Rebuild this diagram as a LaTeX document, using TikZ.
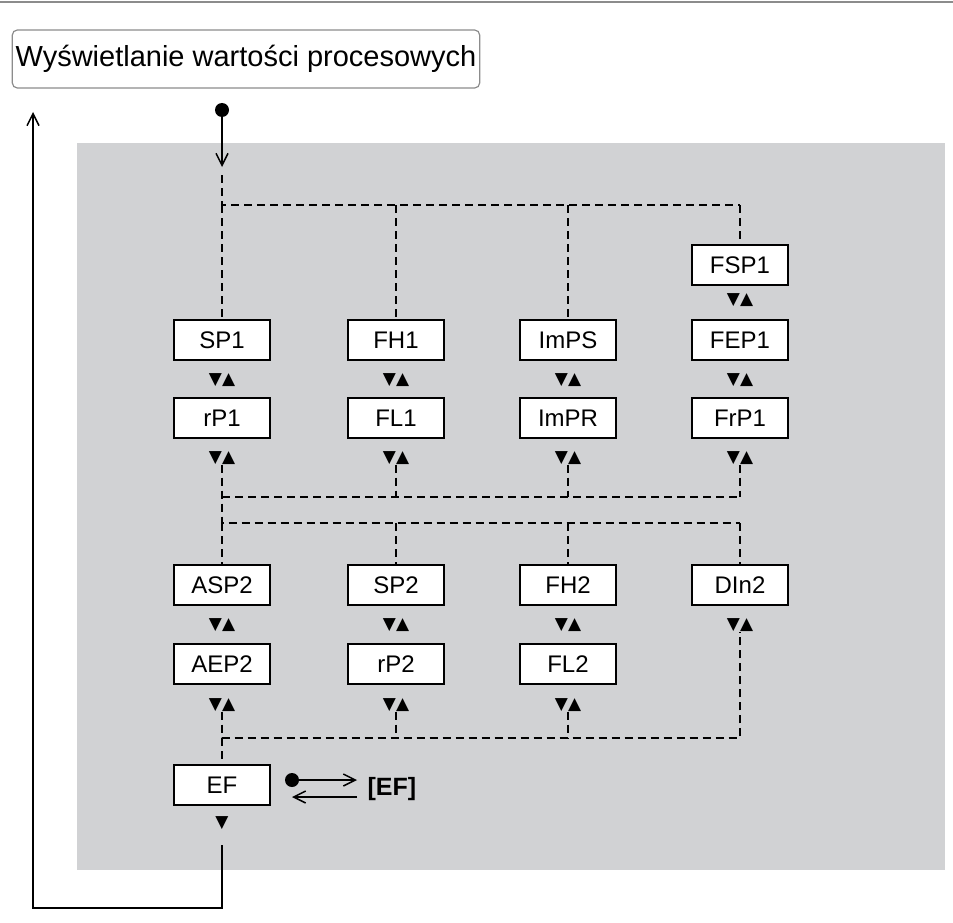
\documentclass[tikz,border=0pt]{standalone}
\usepackage{fontspec}
\setmainfont{Liberation Sans}
\newfontfamily\dejavu{DejaVu Sans}
\usetikzlibrary{arrows.meta}
\definecolor{panel}{RGB}{209,210,212}
\definecolor{rim}{RGB}{140,140,140}

\begin{document}
\begin{tikzpicture}[x=1pt,y=1pt,yscale=-1,
  par/.style={draw,line width=2.2pt,fill=white,minimum width=96pt,minimum height=40pt,inner sep=0pt,font=\fontsize{24}{24}\selectfont},
  ud/.style={inner sep=0pt,font=\dejavu\fontsize{17}{17}\selectfont},
  dsh/.style={line width=1.6pt,dash pattern=on 8pt off 5pt},
  flow/.style={line width=1.5pt,-{Straight Barb[length=12pt,width=12pt]}}]
\useasboundingbox (0,0) rectangle (953,923);
% frame
\draw[rim,line width=2.5pt] (0,2) -- (953,2);
\fill[panel] (77,143) rectangle (945,870);
\node[draw=rim,rounded corners=5pt,line width=1.2pt,minimum width=464pt,minimum height=58pt,font=\fontsize{29}{29}\selectfont] (title) at (246,59) {Wyświetlanie wartości procesowych};

% Text Node
\node[par] (FSP1) at (740,265) {FSP1};
\node[ud] (uFSP1) at (740,300) {▼▲};
\foreach \x/\a/\b [count=\i] in {222/SP1/rP1,396/FH1/FL1,568/ImPS/ImPR,740/FEP1/FrP1}{
  \node[par] (\a) at (\x,340) {\a};
  \node[ud] (u\a) at (\x,380) {▼▲};
  \node[par] (\b) at (\x,418) {\b};
  \node[ud] (u\b) at (\x,458) {▼▲};
  \coordinate (top\i) at (\x,205);
  \coordinate (mid\i) at (\x,497);
  \coordinate (low\i) at (\x,523);
}
\foreach \x/\a/\b [count=\i] in {222/ASP2/AEP2,396/SP2/rP2,568/FH2/FL2}{
  \node[par] (\a) at (\x,585) {\a};
  \node[ud] (u\a) at (\x,625) {▼▲};
  \node[par] (\b) at (\x,664) {\b};
  \node[ud] (u\b) at (\x,705) {▼▲};
  \coordinate (bot\i) at (\x,738);
}
\node[par] (DIn2) at (740,585) {DIn2};
\node[ud] (uDIn2) at (740,625) {▼▲};
\coordinate (bot4) at (740,738);
\node[par] (EF) at (222,785) {EF};
\node[ud] (uEF) at (222,823) {▼};
\node[font=\bfseries\fontsize{25}{25}\selectfont,anchor=west] (ext) at (364,789) {[EF]};

% entry
\fill (222,110) circle (7pt) coordinate (start);
\draw[flow] (start) -- (222,167);
\draw[dsh] (222,175) -- (top1) -- (top4);
\draw[dsh] (top1) -- (SP1.north);
\draw[dsh] (top2) -- (FH1.north);
\draw[dsh] (top3) -- (ImPS.north);
\draw[dsh] (top4) -- (FSP1.north);
% middle
\draw[dsh] (mid1) -- (mid4);
\draw[dsh] (urP1.south) -- (mid1) -- (low1) -- (low4);
\draw[dsh] (uFL1.south) -- (mid2);
\draw[dsh] (uImPR.south) -- (mid3);
\draw[dsh] (uFrP1.south) -- (mid4);
\draw[dsh] (low1) -- (ASP2.north);
\draw[dsh] (low2) -- (SP2.north);
\draw[dsh] (low3) -- (FH2.north);
\draw[dsh] (low4) -- (DIn2.north);
% bottom
\draw[dsh] (uAEP2.south) -- (bot1) -- (bot4) -- (uDIn2.south);
\draw[dsh] (urP2.south) -- (bot2);
\draw[dsh] (uFL2.south) -- (bot3);
\draw[dsh] (bot1) -- (EF.north);
% exit
\fill (292,780) circle (7pt) coordinate (dot);
\draw[flow] (dot) -- (357,780);
\draw[flow] (357,797) -- (292,797);
\draw[flow] (222,845) -- (222,908) -- (33,908) -- (33,112);
\end{tikzpicture}
\end{document}
